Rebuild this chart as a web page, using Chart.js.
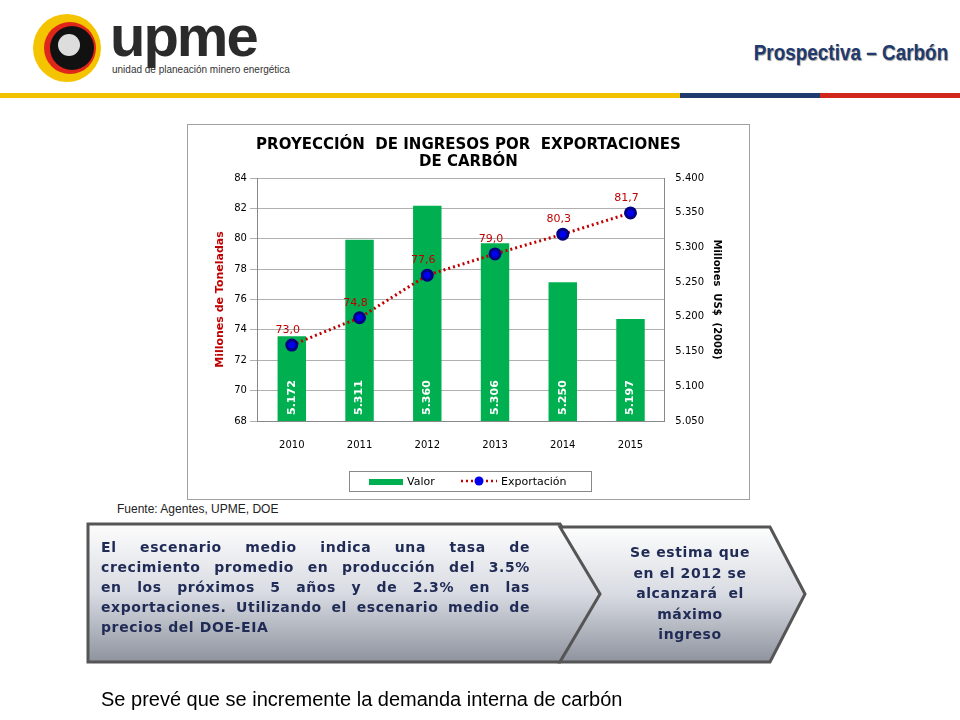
<!DOCTYPE html>
<html><head><meta charset="utf-8">
<script src="https://cdn.jsdelivr.net/npm/chart.js@4"></script>
<style>
body{margin:0;width:960px;height:720px;position:relative;background:#fff;font-family:"Liberation Sans",Arial,sans-serif;overflow:hidden}
.abs{position:absolute}
#box{left:187px;top:124px;width:563px;height:376px;border:1px solid #a0a0a0;box-sizing:border-box}
.t{font-family:"DejaVu Sans";font-weight:bold;color:#1f2a55;font-size:14px;line-height:20px;letter-spacing:0.6px}
.j{text-align:justify;text-align-last:justify;white-space:nowrap}
</style></head><body>
<!-- logo -->
<div class="abs" style="left:33px;top:14px;width:68px;height:68px;border-radius:50%;background:#f5c400"></div>
<div class="abs" style="left:44px;top:22px;width:52px;height:52px;border-radius:50%;background:#e0261b"></div>
<div class="abs" style="left:50px;top:26px;width:44px;height:44px;border-radius:50%;background:#111"></div>
<div class="abs" style="left:58px;top:34px;width:22px;height:22px;border-radius:50%;background:#ddd"></div>
<div class="abs" style="left:110px;top:2px;font:bold 58px 'Liberation Sans';color:#2b2b2b;letter-spacing:-2px">upme</div>
<div class="abs" style="left:112px;top:64px;font:10px 'Liberation Sans';color:#333">unidad de planeación minero energética</div>
<div class="abs" style="right:12px;top:40px;font:bold 22px 'Liberation Sans';color:#1f3a6e;text-shadow:1px 1px 1px #999;transform:scaleX(0.86);transform-origin:right top">Prospectiva – Carbón</div>
<div class="abs" style="left:0;top:93px;width:680px;height:5px;background:#f2c200"></div>
<div class="abs" style="left:680px;top:93px;width:140px;height:5px;background:#1f3a6e"></div>
<div class="abs" style="left:820px;top:93px;width:140px;height:5px;background:#d0261b"></div>

<div id="box" class="abs"><canvas id="c" width="561" height="374"></canvas></div>
<div class="abs" style="left:117px;top:502px;font-size:12px;color:#222">Fuente: Agentes, UPME, DOE</div>

<svg class="abs" style="left:0;top:0" width="960" height="720">
<defs><linearGradient id="g" x1="0" y1="0" x2="0" y2="1">
<stop offset="0" stop-color="#fdfdfd"/><stop offset="0.5" stop-color="#d8dbe2"/><stop offset="1" stop-color="#8e939e"/></linearGradient></defs>
<polygon points="88,524 560,524 602,593 560,662 88,662" fill="url(#g)" stroke="#555" stroke-width="3"/>
<polygon points="560,527 770,527 805,594 770,662 560,662 600,594" fill="url(#g)" stroke="#555" stroke-width="3"/>
</svg>
<div class="abs t" style="left:101px;top:537px;width:429px">
<div class="j">El escenario medio indica una tasa de</div>
<div class="j">crecimiento promedio en producción del 3.5%</div>
<div class="j">en los próximos 5 años y de 2.3% en las</div>
<div class="j">exportaciones. Utilizando el escenario medio de</div>
<div>precios del DOE-EIA</div></div>
<div class="abs t" style="left:618px;top:542px;width:144px;text-align:center;line-height:20.5px">Se estima que<br>en el 2012 se<br>alcanzará&nbsp; el<br>máximo<br>ingreso</div>
<div class="abs" style="left:101px;top:688px;font-size:20px;color:#000">Se prevé que se incremente la demanda interna de carbón</div>

<script>
const years = ["2010","2011","2012","2013","2014","2015"];
const valor = [5.172, 5.311, 5.360, 5.306, 5.250, 5.197];
const exportacion = [73.0, 74.8, 77.6, 79.0, 80.3, 81.7];

const labels = {
  id: "labels",
  afterDatasetsDraw(chart) {
    const c = chart.ctx;
    const bottom = chart.scales.y1.bottom;
    c.save();
    c.font = "bold 11px 'DejaVu Sans'";
    c.fillStyle = "#fff";
    c.textAlign = "left";
    c.textBaseline = "middle";
    chart.getDatasetMeta(1).data.forEach((b, i) => {
      c.save();
      c.translate(b.x, bottom - 6);
      c.rotate(-Math.PI / 2);
      c.fillText(valor[i].toFixed(3), 0, 0);
      c.restore();
    });
    c.font = "11px 'DejaVu Sans'";
    c.fillStyle = "#c00000";
    c.textAlign = "center";
    c.textBaseline = "alphabetic";
    chart.getDatasetMeta(0).data.forEach((p, i) => {
      c.fillText(exportacion[i].toFixed(1).replace(".", ","), p.x - 4, p.y - 12);
    });
    // legend
    const lx = 161, ly = 346, lw = 242, lh = 20;
    c.strokeStyle = "#888";
    c.lineWidth = 1;
    c.strokeRect(lx + 0.5, ly + 0.5, lw, lh);
    c.fillStyle = "#00b050";
    c.fillRect(lx + 20, ly + 8, 34, 6);
    c.fillStyle = "#000";
    c.textAlign = "left";
    c.textBaseline = "middle";
    c.font = "11px 'DejaVu Sans'";
    c.fillText("Valor", lx + 58, ly + 11);
    c.strokeStyle = "#c00000";
    c.lineWidth = 2.5;
    c.setLineDash([2, 3]);
    c.beginPath(); c.moveTo(lx + 112, ly + 10); c.lineTo(lx + 148, ly + 10); c.stroke();
    c.setLineDash([]);
    c.fillStyle = "#0000ee";
    c.beginPath(); c.arc(lx + 130, ly + 10, 4.5, 0, 2 * Math.PI); c.fill();
    c.fillStyle = "#000";
    c.fillText("Exportación", lx + 152, ly + 11);
    c.restore();
  }
};

new Chart(document.getElementById("c"), {
  data: {
    labels: years,
    datasets: [
      { type: "line", label: "Exportación", data: exportacion, yAxisID: "y",
        borderColor: "#c00000", borderDash: [2, 3], borderWidth: 3,
        pointBackgroundColor: "#0000ee", pointBorderColor: "#000080", pointRadius: 5, order: 0 },
      { type: "bar", label: "Valor", data: valor, yAxisID: "y1",
        backgroundColor: "#00b050", barPercentage: 0.42, categoryPercentage: 1, order: 1 }
    ]
  },
  options: {
    animation: false,
    responsive: false,
    layout: { padding: { left: 22, right: 22, top: 4, bottom: 38 } },
    plugins: {
      title: { display: true, text: ["PROYECCIÓN  DE INGRESOS POR  EXPORTACIONES", "DE CARBÓN"],
        color: "#000", font: { family: "DejaVu Sans", size: 15, weight: "bold", lineHeight: 1.1 },
        padding: { top: 8, bottom: 8 } },
      legend: { display: false },
      tooltip: { enabled: false }
    },
    scales: {
      x: { grid: { display: false }, border: { color: "#888" },
        ticks: { color: "#000", font: { family: "DejaVu Sans", size: 10 }, padding: 10 } },
      y: { position: "left", min: 68, max: 84, border: { color: "#888" },
        ticks: { stepSize: 2, color: "#000", font: { family: "DejaVu Sans", size: 10 } },
        grid: { color: "#b0b0b0" },
        title: { display: true, text: "Millones de Toneladas", color: "#c00000",
          font: { family: "DejaVu Sans", size: 11, weight: "bold" } } },
      y1: { position: "right", min: 5.05, max: 5.4, border: { color: "#888" },
        grid: { display: false },
        ticks: { stepSize: 0.05, color: "#000", font: { family: "DejaVu Sans", size: 10 },
          callback: v => v.toFixed(3) },
        title: { display: true, text: "Millones  US$  (2008)", color: "#000",
          font: { family: "DejaVu Sans", size: 10, weight: "bold" } } }
    }
  },
  plugins: [labels]
});
</script>
</body></html>
